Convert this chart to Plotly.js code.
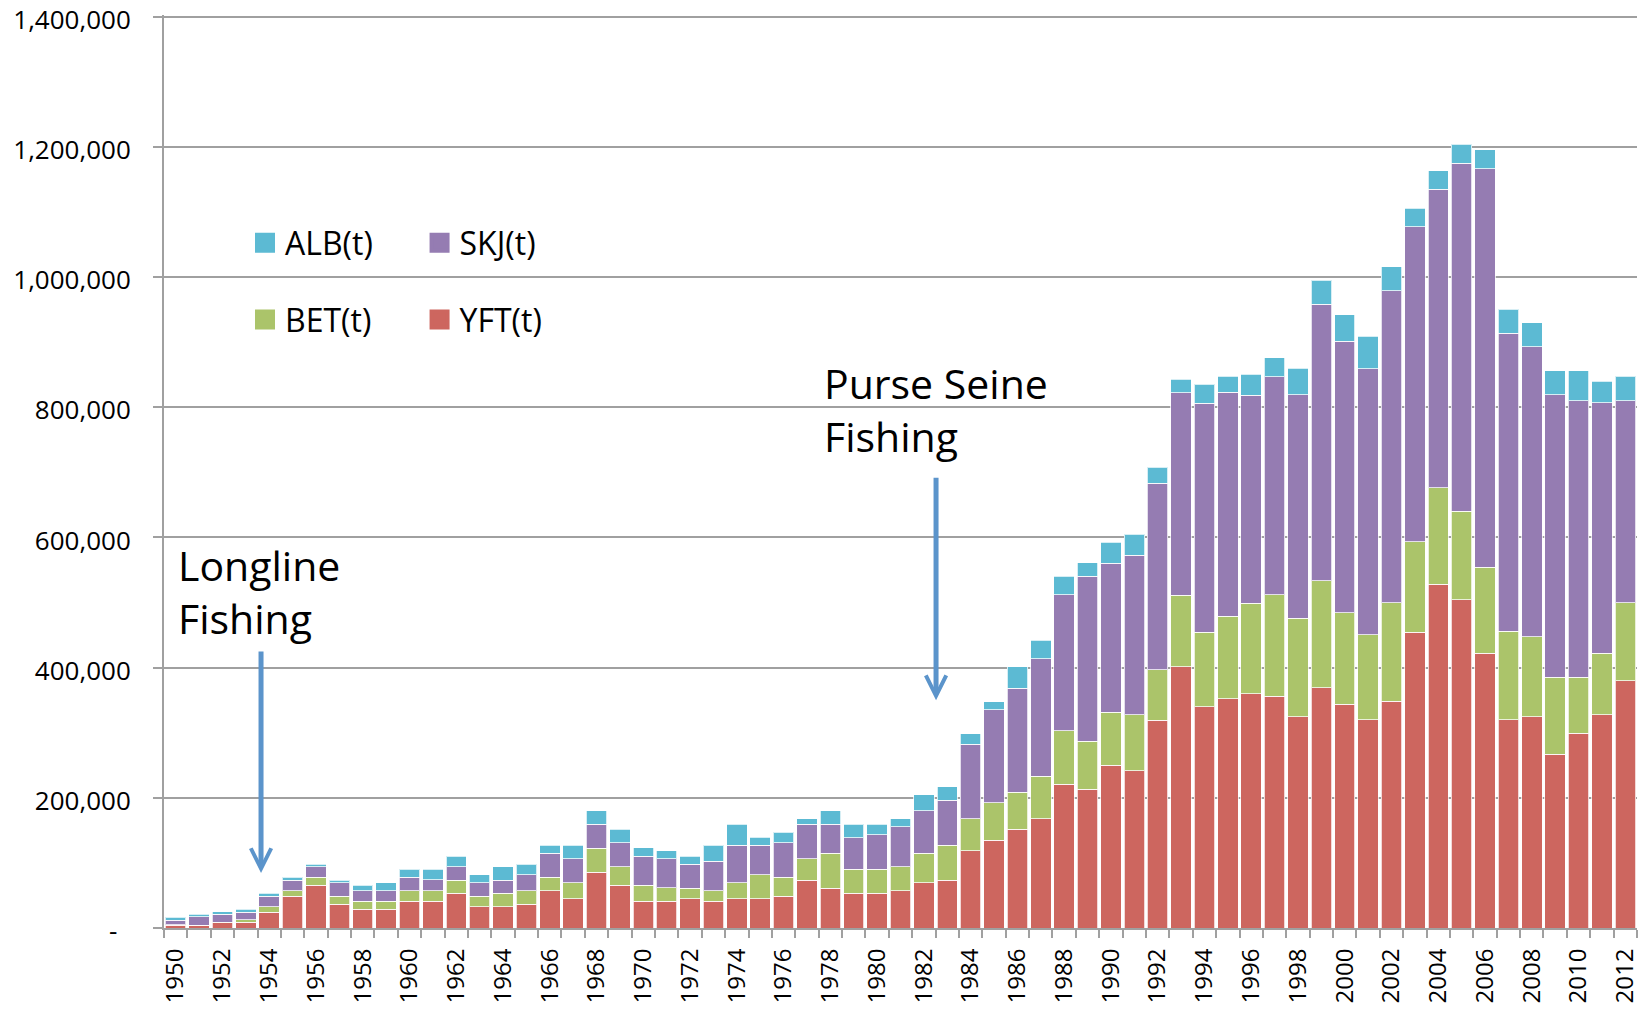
<!DOCTYPE html>
<html>
<head>
<meta charset="utf-8">
<script src="https://cdn.plot.ly/plotly-3.0.1.min.js"></script>
<style>
  html, body { margin: 0; padding: 0; background: #ffffff; }
  #chart { width: 1646px; height: 1009px; }
</style>
</head>
<body>
<div id="chart"></div>
<script>
// ---- data (tonnes) ----
var years = [1950,1951,1952,1953,1954,1955,1956,1957,1958,1959,1960,1961,1962,1963,1964,1965,1966,1967,1968,1969,
             1970,1971,1972,1973,1974,1975,1976,1977,1978,1979,1980,1981,1982,1983,1984,1985,1986,1987,1988,1989,
             1990,1991,1992,1993,1994,1995,1996,1997,1998,1999,2000,2001,2002,2003,2004,2005,2006,2007,2008,2009,
             2010,2011,2012];

var yft = [4000,4000,8200,8700,24000,49000,65500,36800,28700,28700,41000,41000,53200,32700,32700,36800,57300,45000,86000,65500,
           41000,41000,45000,41000,45000,45000,49000,73700,61400,53200,53200,57300,69600,73700,118700,135000,151400,167800,221000,212800,
           249700,241500,319000,401000,339700,352000,360000,356000,324300,369000,344100,320000,348400,454200,528200,504100,422400,320000,324300,266700,
           299400,327700,380200];

var bet = [1000,500,500,4000,8700,8200,12300,12300,12300,12300,16400,16400,20500,16400,20500,20500,20500,24600,36800,28700,
           24600,20500,16400,16400,24600,36800,28700,32700,53200,36800,36800,36800,45000,53200,49000,57300,57300,65500,81900,73700,
           81900,86000,77800,110500,114600,126900,139000,156000,151400,164300,140200,130800,151400,139300,147900,135900,131600,135900,123000,118700,
           86000,94700,119600];

var skj = [7000,12800,12800,11800,16400,16400,16400,20500,16400,16400,20500,16400,20500,20500,20500,24600,36800,36800,36800,36800,
           45000,45000,36800,45000,57300,45000,53200,53200,45000,49000,53200,61400,65500,69600,114600,143200,159600,180000,208700,253800,
           228600,245000,286600,311000,352000,343800,319300,335000,343200,425000,417200,408600,479100,483500,458500,535100,612500,457600,445600,433500,
           424900,384500,310500];

var alb = [4600,3600,3600,4000,4000,4600,4000,4000,8200,12300,12300,16400,16400,12300,20500,16400,12300,20500,20500,20500,
           12300,12300,12300,24600,32700,12300,16400,8200,20500,20500,16400,12300,24600,20500,16400,12300,32700,28700,28700,20500,
           32700,32700,24600,20500,28700,24600,32700,29000,41300,37000,40400,49800,37000,28400,28400,29200,29200,37000,37000,37000,
           45600,32700,37000];

var seriesNames = ['YFT(t)', 'BET(t)', 'SKJ(t)', 'ALB(t)'];
var seriesColors = ['#cd665f', '#abc46a', '#957cb2', '#5cbad3'];

var yTickVals = [0, 200000, 400000, 600000, 800000, 1000000, 1200000, 1400000];
var yTickText = ['-\u00a0\u00a0', '200,000', '400,000', '600,000', '800,000', '1,000,000', '1,200,000', '1,400,000'];
var xTickVals = years.filter(function (y) { return y % 2 === 0; });
var xBoundaries = years.map(function (y) { return y - 0.5; }).concat([years[years.length - 1] + 0.5]);

var FONT = 'Open Sans, sans-serif';
var GRID = '#a0a0a0';
var ARROW = '#5b94cb';

var values = [yft, bet, skj, alb];
var traces = [];
for (var i = 0; i < 4; i++) {
  traces.push({
    type: 'bar',
    x: years,
    y: values[i],
    name: seriesNames[i],
    showlegend: false,
    marker: { color: seriesColors[i], line: { color: 'rgba(255,255,255,0.75)', width: 1 } },
    hoverinfo: 'x+y+name'
  });
}
// legend entries (ALB, SKJ on first row; BET, YFT on second)
var legendSpec = [
  { idx: 3, legend: 'legend',  group: 'a' },
  { idx: 2, legend: 'legend2', group: 'c' },
  { idx: 1, legend: 'legend',  group: 'b' },
  { idx: 0, legend: 'legend2', group: 'd' }
];
legendSpec.forEach(function (s) {
  traces.push({
    type: 'scatter', mode: 'markers',
    x: [null], y: [null],
    name: seriesNames[s.idx],
    legend: s.legend,
    legendgroup: s.group,
    marker: { symbol: 'square', size: 16, color: seriesColors[s.idx],
              line: { color: seriesColors[s.idx], width: 4 } },
    hoverinfo: 'skip'
  });
});

var legendCommon = {
  xanchor: 'left', yanchor: 'top',
  orientation: 'v',
  traceorder: 'grouped',
  tracegroupgap: 32,
  bgcolor: 'rgba(0,0,0,0)',
  borderwidth: 0,
  font: { family: FONT, size: 32, color: '#000000' }
};

var layout = {
  width: 1646,
  height: 1009,
  margin: { l: 164, r: 9, t: 15, b: 81 },
  paper_bgcolor: '#ffffff',
  plot_bgcolor: '#ffffff',
  barmode: 'stack',
  bargap: 0.125,
  showlegend: true,
  legend: Object.assign({}, legendCommon, { x: 0.055, y: 0.7804 }),
  legend2: Object.assign({}, legendCommon, { x: 0.1735, y: 0.7804 }),
  xaxis: {
    type: 'linear',
    range: [1949.5, 2012.5],
    tickmode: 'array',
    tickvals: xTickVals,
    ticktext: xTickVals.map(String),
    tickangle: -90,
    ticks: '',
    ticklabelstandoff: 9,
    tickfont: { family: FONT, size: 24, color: '#000000' },
    minor: {
      tickmode: 'array',
      tickvals: xBoundaries,
      ticks: 'outside',
      ticklen: 8,
      tickwidth: 2,
      tickcolor: GRID,
      showgrid: false
    },
    showgrid: false,
    zeroline: false,
    showline: true,
    linecolor: GRID,
    linewidth: 2,
    fixedrange: true
  },
  yaxis: {
    range: [0, 1402500],
    tickmode: 'array',
    tickvals: yTickVals,
    ticktext: yTickText,
    ticks: 'outside',
    ticklen: 9,
    tickwidth: 2,
    tickcolor: GRID,
    ticklabelstandoff: 17,
    ticklabelshift: 3,
    ticklabeloverflow: 'allow',
    tickfont: { family: FONT, size: 26, color: '#000000' },
    showgrid: true,
    gridcolor: GRID,
    gridwidth: 2,
    zeroline: false,
    showline: true,
    linecolor: GRID,
    linewidth: 2,
    fixedrange: true
  },
  annotations: [
    {
      x: 1950.01, y: 517000, xref: 'x', yref: 'y',
      xanchor: 'left', yanchor: 'middle', align: 'left',
      text: 'Longline<br>Fishing', showarrow: false,
      font: { family: FONT, size: 41, color: '#000000' }
    },
    {
      x: 1977.64, y: 796000, xref: 'x', yref: 'y',
      xanchor: 'left', yanchor: 'middle', align: 'left',
      text: 'Purse Seine<br>Fishing', showarrow: false,
      font: { family: FONT, size: 41, color: '#000000' }
    },
    {
      x: 1953.65, y: 84400, xref: 'x', yref: 'y',
      text: '', showarrow: true, ax: 0, ay: -223,
      arrowhead: 5, arrowsize: 0.8, arrowwidth: 5, arrowcolor: ARROW
    },
    {
      x: 1982.52, y: 350000, xref: 'x', yref: 'y',
      text: '', showarrow: true, ax: 0, ay: -224,
      arrowhead: 5, arrowsize: 0.8, arrowwidth: 5, arrowcolor: ARROW
    }
  ]
};

Plotly.newPlot('chart', traces, layout, { displayModeBar: false, staticPlot: true });
</script>
</body>
</html>
